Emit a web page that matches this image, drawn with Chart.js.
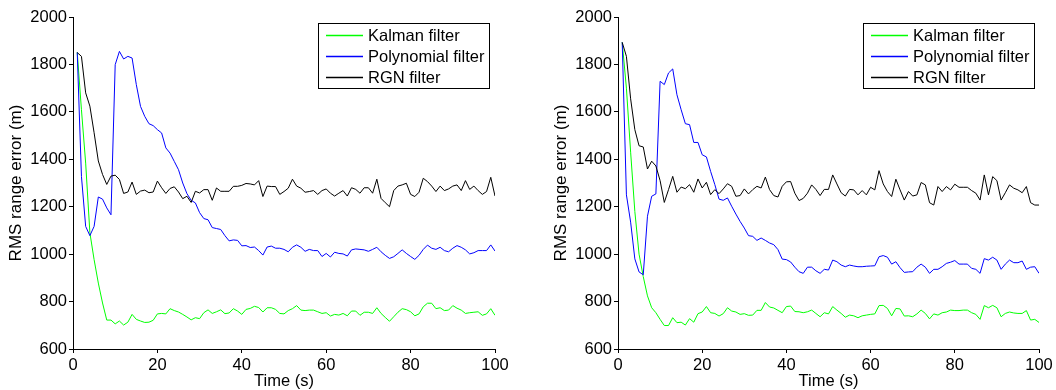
<!DOCTYPE html>
<html><head><meta charset="utf-8">
<script src="https://cdn.jsdelivr.net/npm/chart.js@4/dist/chart.umd.min.js"></script>
<style>
html,body{margin:0;padding:0;background:#fff;width:1056px;height:390px;overflow:hidden}
.c{position:absolute;top:0;width:528px;height:390px}
</style></head><body>
<div class="c" style="left:0"><canvas id="a"></canvas></div>
<div class="c" style="left:528px"><canvas id="b"></canvas></div>
<script>
// time axis (s)
const time = Array.from({length:100},(_,i)=>i+1);
const xTicks = [0,20,40,60,80,100];
const yTicks = [600,800,1000,1200,1400,1600,1800,2000];
const seriesNames = ['Kalman filter','Polynomial filter','RGN filter'];
const xTitle = 'Time (s)';
const yTitle = 'RMS range error (m)';

// left panel
const kalmanA = [1851,1609,1384,1090,977,878,794,722,722,706,718,701,713,746,725,718,712,713,721,748,
750,748,770,762,756,746,735,723,732,728,753,765,750,757,765,749,752,770,760,746,
767,771,780,775,756,774,774,767,750,748,762,770,783,764,762,764,764,757,750,753,
739,746,743,750,740,760,760,742,755,755,750,774,750,733,717,736,755,770,766,757,
740,748,778,793,793,770,774,762,764,783,772,764,750,753,755,757,742,748,770,742];
const polyA = [1851,1328,1117,1078,1117,1241,1232,1195,1166,1799,1855,1823,1834,1827,1715,1623,1581,1550,1542,1525,
1511,1448,1426,1391,1356,1300,1255,1227,1216,1175,1150,1145,1112,1108,1104,1078,1056,1060,1058,1035,
1036,1028,1030,1015,996,1030,1034,1025,1025,1020,1010,1029,1039,1029,1012,1020,1015,1015,990,1003,
988,1008,1003,1001,992,1018,1022,1020,1018,1012,1020,1029,1010,995,982,989,1003,1018,1003,990,
978,995,1020,1038,1025,1020,1029,1015,1010,1025,1036,1029,1018,1001,1006,1015,1015,1015,1039,1013];
const rgnA = [1850,1834,1680,1624,1512,1393,1336,1294,1329,1333,1315,1256,1262,1304,1252,1266,1270,1259,1262,1308,
1280,1256,1277,1284,1262,1234,1244,1218,1265,1258,1272,1272,1227,1279,1265,1265,1265,1286,1286,1290,
1298,1296,1292,1310,1243,1287,1285,1285,1252,1264,1278,1316,1287,1278,1261,1264,1268,1252,1268,1275,
1257,1245,1257,1268,1245,1280,1273,1257,1280,1280,1257,1316,1235,1217,1200,1268,1287,1292,1299,1252,
1243,1261,1320,1306,1287,1264,1287,1268,1275,1287,1292,1268,1310,1273,1287,1268,1252,1264,1324,1245];

// right panel
const kalmanB = [1893,1700,1430,1180,1000,905,824,774,753,725,699,699,732,711,713,701,728,713,749,756,
779,753,750,739,749,774,760,756,746,749,742,743,763,763,796,777,773,763,753,779,
781,758,757,753,757,764,750,736,753,748,779,764,750,734,743,740,732,740,743,746,
748,783,784,771,740,771,769,739,740,736,748,764,750,727,748,743,753,756,764,762,
762,764,764,753,746,725,783,774,784,774,736,750,756,752,750,750,762,722,725,712];
const polyB = [1893,1250,1135,980,925,913,1160,1244,1254,1729,1715,1764,1781,1672,1609,1550,1546,1471,1471,1419,
1410,1349,1293,1232,1227,1237,1202,1169,1138,1110,1078,1075,1058,1068,1058,1047,1040,1019,979,977,
967,945,926,919,945,945,930,919,936,933,975,968,954,947,954,950,947,947,949,950,
951,989,994,987,958,968,943,923,925,926,945,958,945,919,936,936,947,961,966,973,
958,958,958,940,936,919,981,975,987,975,936,958,975,964,964,971,936,945,947,919];
const rgnB = [1893,1834,1655,1525,1457,1452,1359,1392,1372,1310,1218,1272,1328,1261,1283,1276,1293,1261,1317,1279,
1303,1251,1272,1255,1275,1297,1286,1244,1247,1275,1254,1272,1286,1279,1325,1272,1247,1241,1286,1305,
1306,1257,1226,1235,1257,1292,1273,1247,1273,1273,1334,1296,1259,1245,1273,1271,1250,1268,1250,1282,
1271,1352,1296,1264,1243,1316,1271,1228,1264,1245,1250,1302,1292,1217,1207,1285,1264,1285,1271,1295,
1282,1282,1282,1268,1257,1228,1334,1250,1327,1310,1228,1259,1292,1278,1271,1259,1285,1217,1207,1207];

const colors = ['#00ff00','#0000ff','#000000'];
const FONT = "'Liberation Sans', Arial, Helvetica, sans-serif";
Chart.defaults.font.family = FONT;
Chart.defaults.font.size = 16;
Chart.defaults.color = '#000';

const boxLegend = {
  id:'boxLegend',
  afterDatasetsDraw(chart, args, opts){
    const {ctx, chartArea:ca} = chart;
    ctx.save();
    ctx.font = '16.5px ' + FONT;
    const ds = chart.data.datasets;
    const tw = Math.max(...ds.map(d=>ctx.measureText(d.label).width));
    const w = Math.round(Math.max(171, 50 + tw));
    const right = Math.round(ca.right - opts.right);
    const left = right - w, top = Math.round(ca.top + 6), h = 65;
    ctx.fillStyle = '#fff'; ctx.fillRect(left, top, w, h);
    ctx.strokeStyle = '#000'; ctx.lineWidth = 1;
    ctx.strokeRect(left + 0.5, top + 0.5, w, h);
    ds.forEach((d,i)=>{
      const y = top + 12 + i*21;
      ctx.strokeStyle = d.borderColor; ctx.lineWidth = 1.3;
      ctx.beginPath(); ctx.moveTo(left + 8, y + 0.5); ctx.lineTo(left + 45, y + 0.5); ctx.stroke();
      ctx.fillStyle = '#000'; ctx.textBaseline = 'middle'; ctx.textAlign = 'left';
      ctx.fillText(d.label, left + 50, y + 1);
    });
    ctx.restore();
  }
};

function makeChart(id, series, axisW, titleX, padRight, legRight){
  const datasets = series.map((s,i)=>({
    label: seriesNames[i],
    data: time.map((t,j)=>({x:t, y:s[j]})),
    borderColor: colors[i], borderWidth: 1, pointRadius: 0, tension: 0,
    fill: false, order: 3 - i
  }));
  return new Chart(document.getElementById(id), {
    type: 'line',
    data: {datasets},
    options: {
      responsive: false, animation: false, devicePixelRatio: 1,
      layout: {padding: {left: 0, right: padRight, top: 17, bottom: 0}},
      plugins: {legend: {display: false}, tooltip: {enabled: false}, boxLegend: {right: legRight}},
      scales: {
        x: {
          type: 'linear', min: 0, max: 100,
          afterBuildTicks: s => { s.ticks = xTicks.map(v=>({value:v})); },
          afterFit: s => { s.height = 41; },
          grid: {display: true, drawOnChartArea: false, drawTicks: true, tickLength: 4, color: '#000'},
          border: {display: true, color: '#000', width: 1},
          ticks: {padding: 3, maxRotation: 0, font: {size: 16.5}, callback: v => String(v)},
          title: {display: true, text: xTitle, font: {size: 16.5, lineHeight: 1}, padding: {top: 0, bottom: 0}}
        },
        y: {
          min: 600, max: 2000,
          afterBuildTicks: s => { s.ticks = yTicks.map(v=>({value:v})); },
          afterFit: s => { s.width = axisW; },
          grid: {display: true, drawOnChartArea: false, drawTicks: true, tickLength: 4, color: '#000'},
          border: {display: true, color: '#000', width: 1},
          ticks: {padding: 2, font: {size: 16.5}, callback: v => String(v)},
          title: {display: true, text: yTitle, font: {size: 17, lineHeight: 1}, padding: {top: titleX - 8.5, bottom: 0}}
        }
      }
    },
    plugins: [boxLegend]
  });
}
const ca = document.getElementById('a'); ca.width = 528; ca.height = 390;
const cb = document.getElementById('b'); cb.width = 528; cb.height = 390;
makeChart('a', [kalmanA, polyA, rgnA], 73, 16.5, 33, 6);
makeChart('b', [kalmanB, polyB, rgnB], 90, 33.5, 17, 5);
</script></body></html>
